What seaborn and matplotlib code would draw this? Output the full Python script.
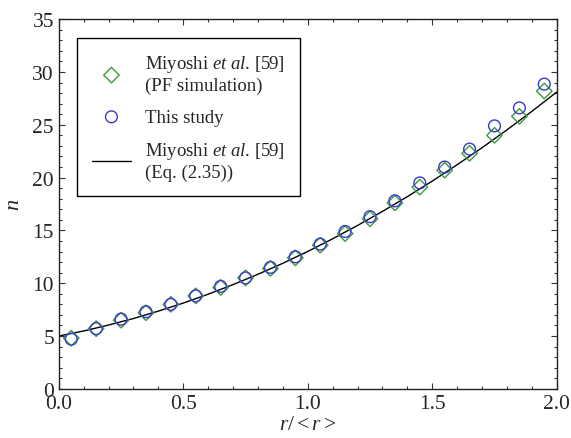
import matplotlib
matplotlib.use("Agg")
import matplotlib.pyplot as plt
import seaborn as sns
import pandas as pd
from matplotlib.ticker import MultipleLocator

# ---- data ----
r_points = [0.05, 0.15, 0.25, 0.35, 0.45, 0.55, 0.65, 0.75, 0.85, 0.95,
            1.05, 1.15, 1.25, 1.35, 1.45, 1.55, 1.65, 1.75, 1.85, 1.95]
n_pf_sim = [4.8, 5.7, 6.5, 7.2, 8.0, 8.8, 9.6, 10.5, 11.4, 12.4,
            13.6, 14.7, 16.1, 17.6, 19.1, 20.7, 22.3, 24.0, 25.8, 28.2]
n_this_study = [4.7, 5.7, 6.6, 7.3, 8.0, 8.8, 9.7, 10.5, 11.5, 12.5,
                13.7, 14.9, 16.3, 17.8, 19.5, 21.0, 22.7, 24.9, 26.6, 28.85]
r_curve = [0.0, 0.1, 0.2, 0.3, 0.4, 0.5, 0.6, 0.7, 0.8, 0.9, 1.0,
           1.1, 1.2, 1.3, 1.4, 1.5, 1.6, 1.7, 1.8, 1.9, 2.0]
n_curve = [5.0, 5.48, 6.04, 6.66, 7.36, 8.12, 8.96, 9.87, 10.85, 11.89, 13.01,
           14.21, 15.47, 16.80, 18.20, 19.67, 21.22, 22.83, 24.52, 26.27, 28.1]
x_ticks = [0.0, 0.5, 1.0, 1.5, 2.0]
y_ticks = [0, 5, 10, 15, 20, 25, 30, 35]

label_pf = "Miyoshi $\\mathit{et\\ al}$. [59]\n(PF simulation)"
label_this = "This study"
label_eq = "Miyoshi $\\mathit{et\\ al}$. [59]\n(Eq. (2.35))"

sns.set_style("ticks")
plt.rcParams["font.family"] = ["Liberation Serif", "DejaVu Serif"]
plt.rcParams["mathtext.fontset"] = "custom"
plt.rcParams["mathtext.rm"] = "Liberation Serif"
plt.rcParams["mathtext.it"] = "Liberation Serif:italic"

fig = plt.figure(figsize=(5.71, 4.39), dpi=100)
ax = fig.add_axes([0.103, 0.112, 0.872, 0.842])

df_pf = pd.DataFrame({"r": r_points, "n": n_pf_sim})
df_this = pd.DataFrame({"r": r_points, "n": n_this_study})
df_curve = pd.DataFrame({"r": r_curve, "n": n_curve})

sns.lineplot(data=df_curve, x="r", y="n", ax=ax, color="black", lw=1.0,
             label=label_eq, zorder=2)
sns.scatterplot(data=df_pf, x="r", y="n", ax=ax, marker="D", s=62,
                facecolors="none", edgecolors="#3c9a3c", linewidths=1.0,
                label=label_pf, zorder=3)
sns.scatterplot(data=df_this, x="r", y="n", ax=ax, marker="o", s=72,
                facecolors="none", edgecolors="#3a3acc", linewidths=1.0,
                label=label_this, zorder=4)

ax.set_xlim(0, 2.0)
ax.set_ylim(0, 35)
ax.set_xticks(x_ticks)
ax.set_xticklabels([f"{v:.1f}" for v in x_ticks])
ax.set_yticks(y_ticks)
ax.set_yticklabels([str(v) for v in y_ticks])
ax.xaxis.set_minor_locator(MultipleLocator(0.1))
ax.yaxis.set_minor_locator(MultipleLocator(1))
ax.tick_params(which="both", direction="in", top=True, right=True,
               labelsize=15.5, width=0.8, color="#333333")
ax.tick_params(which="major", length=4)
ax.tick_params(which="minor", length=2)
for s in ax.spines.values():
    s.set_linewidth(1.0)
    s.set_color("#222222")

ax.set_xlabel("$r/<r>$", fontsize=15.5, labelpad=2)
ax.set_ylabel("$n$", fontsize=16, labelpad=6)

handles, labels = ax.get_legend_handles_labels()
order = [labels.index(label_pf), labels.index(label_this), labels.index(label_eq)]
leg = ax.legend([handles[i] for i in order], [labels[i] for i in order],
                loc="upper left", bbox_to_anchor=(0.036, 0.949),
                borderaxespad=0, fontsize=13.5, frameon=True, fancybox=False,
                edgecolor="black", framealpha=1, handlelength=2.1,
                labelspacing=0.78, borderpad=0.8, handletextpad=0.75)
leg.get_frame().set_linewidth(1.0)

fig.savefig("out.png", dpi=100)
